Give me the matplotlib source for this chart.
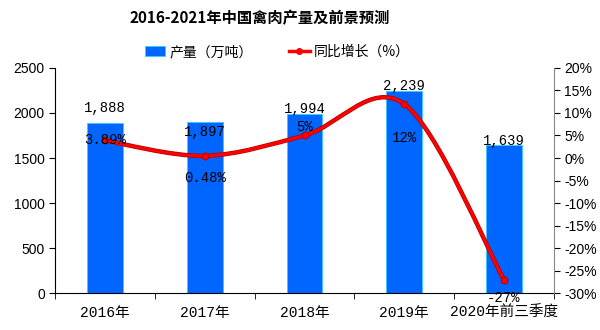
import matplotlib
matplotlib.use('Agg')
import matplotlib.pyplot as plt
import numpy as np
from matplotlib.path import Path
from matplotlib.patches import PathPatch

# data
categories = ['2016年', '2017年', '2018年', '2019年', '2020年前三季度']
output = [1888, 1897, 1994, 2239, 1639]
output_labels = ['1,888', '1,897', '1,994', '2,239', '1,639']
growth = [3.89, 0.48, 5, 12, -27]
growth_labels = ['3.89%', '0.48%', '5%', '12%', '-27%']

CJK = ['Noto Sans CJK SC', 'DejaVu Sans']
MONO = ['Liberation Mono', 'Noto Sans CJK SC']
plt.rcParams['font.family'] = CJK

fig = plt.figure(figsize=(6, 3.3), dpi=100)
ax = fig.add_axes([0.092, 0.112, 0.831, 0.682])
ax2 = ax.twinx()

x = np.arange(len(categories))
bars = ax.bar(x, output, width=0.36, color='#0066FF', edgecolor='#33CCFF',
              linewidth=0.6, zorder=2, label='产量（万吨）')
ax.set_xlim(-0.5, len(categories) - 0.5)
ax.set_ylim(0, 2500)
ax.set_yticks(range(0, 2501, 500))
ax.tick_params(axis='y', labelsize=10, direction='out', length=4, colors='black')
for t in ax.get_yticklabels():
    t.set_family(['Liberation Sans'])

ax.set_xticks(x)
ax.set_xticklabels(categories, family=MONO, fontsize=10.5)
ax.set_xticks(np.arange(-0.5, len(categories)), minor=True)
ax.tick_params(axis='x', which='major', length=0, pad=9)
ax.tick_params(axis='x', which='minor', length=4, direction='out')

for s in ['top', 'right']:
    ax.spines[s].set_visible(False)
    ax2.spines[s].set_visible(False)
ax2.spines['right'].set_visible(True)
ax2.spines['right'].set_color('#888888')
ax2.spines['left'].set_visible(False)
ax2.spines['bottom'].set_visible(False)

# bar labels (offsets in data units, the 2017 label sits inside its bar)
bar_offsets = [170, -110, 55, 65, 55]
for xi, v, lab, off in zip(x, output, output_labels, bar_offsets):
    ax.text(xi, v + off, lab, ha='center', va='center', family=MONO, fontsize=10)

# smoothed growth line (Catmull-Rom style bezier)
ax2.set_ylim(-30, 20)
ax2.set_yticks(range(-30, 21, 5))
ax2.set_yticklabels([f'{v}%' for v in range(-30, 21, 5)],
                    family=['Liberation Sans Narrow', 'Liberation Sans'], fontsize=10)
ax2.tick_params(axis='y', direction='out', length=4, colors='black')

px = np.array(x, dtype=float)
py = np.array(growth, dtype=float)
verts = [(px[0], py[0])]
codes = [Path.MOVETO]
t = 1 / 6
for i in range(len(px) - 1):
    p0 = (px[max(i - 1, 0)], py[max(i - 1, 0)])
    p1 = (px[i], py[i])
    p2 = (px[i + 1], py[i + 1])
    p3 = (px[min(i + 2, len(px) - 1)], py[min(i + 2, len(px) - 1)])
    c1 = (p1[0] + (p2[0] - p0[0]) * t, p1[1] + (p2[1] - p0[1]) * t)
    c2 = (p2[0] - (p3[0] - p1[0]) * t, p2[1] - (p3[1] - p1[1]) * t)
    verts += [c1, c2, p2]
    codes += [Path.CURVE4] * 3
ax2.add_patch(PathPatch(Path(verts, codes), facecolor='none', edgecolor='#B00000',
                        linewidth=3.2, zorder=3))
ax2.add_patch(PathPatch(Path(verts, codes), facecolor='none', edgecolor='#FF0000',
                        linewidth=2.2, zorder=3))
ax2.plot(px, py, linestyle='none', marker='o', markersize=5, color='#FF0000',
         markeredgecolor='#B00000', markeredgewidth=0.6, zorder=4)

offsets = [0, -4.9, 1.8, -7.5, -4.2]
for xi, v, lab, off in zip(px, py, growth_labels, offsets):
    ax2.text(xi, v + off, lab, ha='center', va='center', family=MONO, fontsize=10, zorder=5)

# legend
line_handle = plt.Line2D([], [], color='#FF0000', linewidth=2.5, marker='o', markersize=4,
                         label='同比增长（%）')
fig.legend(handles=[bars, line_handle], loc='center', bbox_to_anchor=(0.462, 0.842),
           ncol=2, frameon=False, fontsize=10, handlelength=1.5, columnspacing=2.6,
           handletextpad=0.3)

fig.suptitle('2016-2021年中国禽肉产量及前景预测', x=0.432, y=0.97, fontsize=11,
             fontweight='bold')

fig.savefig('out.png', dpi=100)
